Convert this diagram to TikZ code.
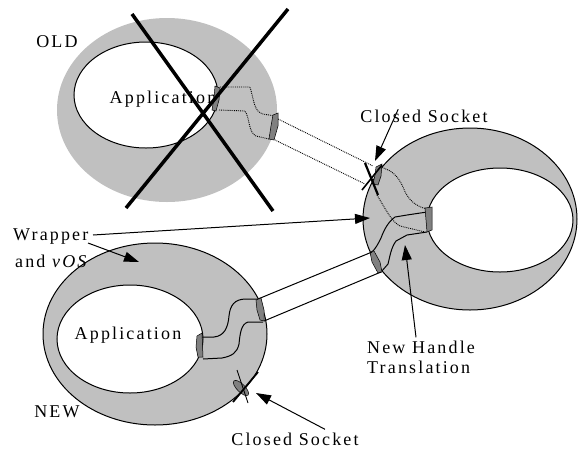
\documentclass[tikz,border=0pt]{standalone}
\usepackage{fontspec}
\setmainfont{Liberation Serif}[LetterSpace=12]
\usetikzlibrary{arrows.meta}
\definecolor{torusgray}{RGB}{192,192,192}
\definecolor{sockgray}{RGB}{128,128,128}
\begin{document}
\begin{tikzpicture}[x=1pt,y=-1pt,
  lbl/.style={inner sep=0pt,font=\fontsize{18}{20}\selectfont},
  ring/.style={draw=black,line width=1pt,fill=torusgray,even odd rule},
  sock/.style={draw=black,line width=0.5pt,fill=sockgray},
  tube/.style={line width=1pt},
  dots/.style={line width=0.9pt,densely dotted},
  cross/.style={line width=3.5pt},
  ptr/.style={line width=1pt,-{Triangle[length=15pt,width=10pt]}}]
\useasboundingbox (0,0) rectangle (579,451);
% ---------- OLD ----------
\fill[torusgray] (167,110) ellipse [x radius=110,y radius=92];
\draw[line width=1pt,fill=white] (146,95) ellipse [x radius=72,y radius=53];
\node[lbl,anchor=base] (oldapp) at (163,103) {Application};
\node[lbl,anchor=base] (old) at (57,47) {OLD};
% ---------- RIGHT ----------
\path[ring] (470,219) ellipse [x radius=107,y radius=91]
            (500,220) ellipse [x radius=73,y radius=52];
% ---------- NEW ----------
\path[ring] (155,334) ellipse [x radius=112,y radius=91]
            (130,339) ellipse [x radius=73,y radius=54];
\node[lbl,anchor=base] (newapp) at (128,339) {Application};
\node[lbl,anchor=base] (new) at (57,417) {NEW};
% ---------- dotted old connection ----------
\draw[dots] (220,87) -- (250,87) .. controls (254,100) and (254,112) .. (263,114) -- (275,116);
\draw[dots] (278,119) -- (373,166);
\draw[dots] (380,167) .. controls (392,170) and (398,176) .. (403,187)
            .. controls (407,198) and (414,206) .. (427,209);
\draw[dots] (219,110) -- (245,111) .. controls (250,118) and (248,132) .. (256,136) -- (269,139);
\draw[dots] (273,139) -- (365,184);
\draw[dots] (377,195) .. controls (386,210) and (392,222) .. (400,226) -- (425,232);
\draw[sock] (215,86) -- (220,88) -- (219,100) -- (216,111) -- (212,110) -- (214,98) -- cycle;
\draw[sock] (273,115) -- (278,113) -- (278,126) -- (274,140) -- (269,139) -- (271,126) -- cycle;
% ---------- cross over old ----------
\draw[cross] (132,14) -- (273,211);
\draw[cross] (288,9) -- (126,208);
% ---------- right torus handle ----------
\draw[tube] (427,212) -- (407,215) -- (395,217) .. controls (388,222) and (384,230) .. (381,238)
            .. controls (378,244) and (376,248) .. (372,252);
\draw[tube] (427,232) -- (407,235) -- (396,241) .. controls (391,248) and (390,256) .. (388,264)
            -- (381,272);
\draw[sock] (425,208) -- (432,207) -- (432,230) -- (427,232) -- (426,220) -- cycle;
\draw[sock] (370,252) -- (374,251) -- (380,262) -- (382,272) -- (378,273) -- (372,262) -- cycle;
% right closed socket
\draw[sock] (376,167) -- (382,164) -- (381,176) -- (378,185) -- (373,184) -- (375,175) -- cycle;
\draw[line width=2.2pt] (365,163) -- (378,195);
\draw[line width=1.6pt] (362,190) -- (382,165);
% ---------- tube between new and right ----------
\draw[tube] (372,252) -- (258,299);
\draw[tube] (381,272) -- (264,321);
% ---------- new torus handle ----------
\draw[tube] (258,299) -- (246,299) .. controls (234,299) and (230,306) .. (229,316)
            .. controls (228,328) and (224,336) .. (214,337) -- (202,337);
\draw[tube] (263,322) -- (248,322) .. controls (241,324) and (240,334) .. (239,344)
            .. controls (237,353) and (232,356) .. (222,358) -- (203,359);
\draw[sock] (256,300) -- (261,298) -- (264,310) -- (264,321) -- (260,320) -- (257,310) -- cycle;
\draw[sock] (197,336) -- (202,333) -- (203,357) -- (198,357) -- (196,347) -- cycle;
% new closed socket
\draw[sock,rotate around={-45:(241,388)}] (241,388) ellipse [x radius=10,y radius=4];
\draw[line width=0.8pt] (237,370) -- (248,403);
\draw[line width=1.8pt] (233,402) -- (258,372);
% ---------- labels ----------
\node[lbl,anchor=base west] (wrap) at (13,240) {Wrapper};
\node[lbl,anchor=base west] (andvos) at (15,267) {and \textit{vOS}};
\node[lbl,anchor=base] (csTop) at (424,122) {Closed Socket};
\node[lbl,anchor=base] (csBot) at (295,445) {Closed Socket};
\node[lbl,anchor=base west] (nh1) at (367,353) {New Handle};
\node[lbl,anchor=base west] (nh2) at (367,373) {Translation};
% ---------- pointers ----------
\coordinate (wrapR) at (370,218);
\coordinate (wrapN) at (139,262);
\coordinate (csTopT) at (375,161);
\coordinate (csBotT) at (256,393);
\coordinate (nhT) at (405,245);
\draw[ptr] (93,235) -- (wrapR);
\draw[ptr] (88,243) -- (wrapN);
\draw[ptr] (csTop.north west) ++(38,0) -- (csTopT);
\draw[ptr] (csBot.north) ++(30,-3) -- (csBotT);
\draw[ptr] (nh1.north west) ++(49,-3) -- (nhT);
\end{tikzpicture}
\end{document}
